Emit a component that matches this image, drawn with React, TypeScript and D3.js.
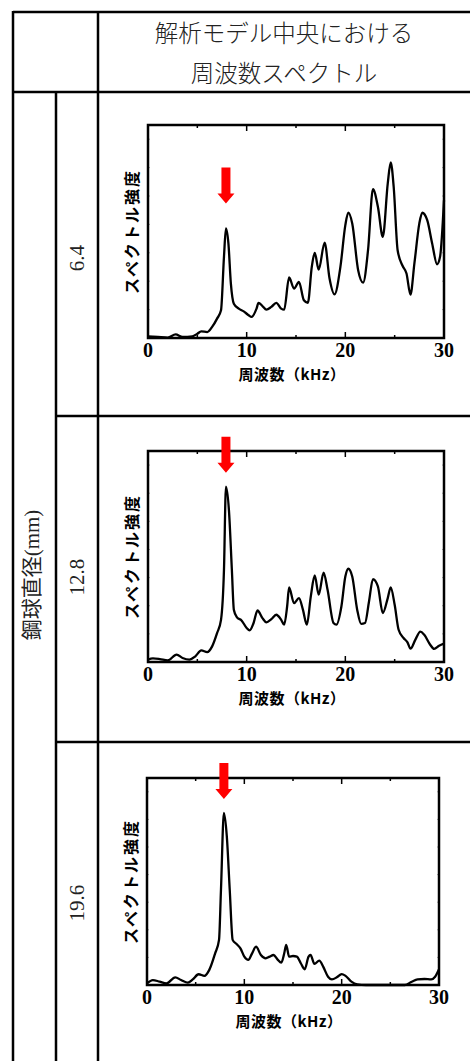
import React, { useEffect, useRef } from "react";
import * as d3 from "d3";

// table labels
const headerLines = ["解析モデル中央における", "周波数スペクトル"];
const groupLabel = "鋼球直径(mm)";
const diameters = ["6.4", "12.8", "19.6"];
const xTicks = [0, 10, 20, 30];
const xLabel = "周波数（kHz）";
const yLabel = "スペクトル強度";
const peakFreq = 7.9;

// spectrum, 6.4 mm (intensity relative to plot height)
const freq64 = [0, 1, 2, 2.8, 3.5, 4.5, 5, 5.4, 6, 6.5, 7, 7.4, 7.7, 7.9, 8.15, 8.4, 8.7, 9.2, 9.7, 10.2, 10.5, 11, 11.2, 11.6, 12, 12.5, 13, 13.5, 13.8, 14.3, 14.8, 15.3, 15.8, 16.2, 16.6, 16.9, 17.3, 17.9, 18.4, 18.9, 19.5, 20, 20.3, 20.7, 21.3, 21.8, 22.3, 22.8, 23.3, 23.8, 24.3, 24.6, 24.9, 25.3, 25.8, 26.2, 26.6, 27, 27.5, 27.8, 28.3, 28.8, 29.3, 29.6, 30];
const spec64 = [0.008, 0.005, 0.002, 0.017, 0.005, 0.008, 0.02, 0.031, 0.028, 0.052, 0.091, 0.13, 0.381, 0.514, 0.444, 0.255, 0.161, 0.138, 0.125, 0.107, 0.099, 0.138, 0.165, 0.15, 0.133, 0.146, 0.165, 0.138, 0.133, 0.284, 0.232, 0.263, 0.177, 0.165, 0.334, 0.4, 0.321, 0.448, 0.279, 0.205, 0.334, 0.53, 0.589, 0.538, 0.318, 0.26, 0.412, 0.699, 0.616, 0.475, 0.726, 0.824, 0.71, 0.412, 0.339, 0.303, 0.204, 0.35, 0.538, 0.588, 0.553, 0.444, 0.346, 0.381, 0.647];

// spectrum, 12.8 mm
const freq128 = [0, 0.5, 1.2, 2, 2.9, 3.5, 4.2, 4.8, 5.4, 6, 6.5, 7, 7.4, 7.7, 7.9, 8.2, 8.5, 8.7, 9, 9.5, 10, 10.3, 10.7, 11.1, 11.6, 12, 12.5, 13, 13.5, 13.8, 14.1, 14.3, 14.8, 15.3, 15.7, 16.1, 16.5, 16.9, 17.3, 17.8, 18.2, 18.8, 19.1, 19.6, 20, 20.3, 20.7, 21.2, 21.6, 22, 22.4, 22.8, 23.3, 23.8, 24.3, 24.6, 25, 25.4, 25.9, 26.3, 26.6, 27.1, 27.6, 28, 28.6, 29, 29.5, 30];
const spec128 = [0.011, 0.017, 0.014, 0.008, 0.035, 0.019, 0.011, 0.027, 0.055, 0.047, 0.074, 0.137, 0.2, 0.437, 0.831, 0.721, 0.437, 0.248, 0.213, 0.196, 0.161, 0.15, 0.185, 0.244, 0.208, 0.188, 0.203, 0.224, 0.2, 0.177, 0.263, 0.353, 0.279, 0.303, 0.248, 0.177, 0.311, 0.41, 0.319, 0.424, 0.342, 0.185, 0.177, 0.263, 0.405, 0.442, 0.405, 0.248, 0.181, 0.185, 0.287, 0.393, 0.358, 0.232, 0.303, 0.353, 0.271, 0.153, 0.114, 0.093, 0.063, 0.106, 0.144, 0.129, 0.082, 0.062, 0.077, 0.087];

// spectrum, 19.6 mm
const freq196 = [0, 0.6, 1.3, 2, 2.9, 3.5, 4.2, 4.7, 5.3, 5.9, 6.4, 7, 7.4, 7.6, 7.9, 8.2, 8.5, 8.8, 9.2, 9.6, 10, 10.4, 10.8, 11.2, 11.7, 12.2, 12.6, 13, 13.4, 13.8, 14.1, 14.3, 14.6, 15, 15.4, 15.8, 16.2, 16.6, 16.8, 17.2, 17.7, 18.1, 18.6, 19, 19.5, 20, 20.4, 21, 21.6, 22.5, 25, 26.5, 27.2, 27.8, 28.5, 29.2, 29.6, 30];
const spec196 = [0.008, 0.024, 0.016, 0.008, 0.037, 0.024, 0.011, 0.027, 0.052, 0.044, 0.073, 0.153, 0.218, 0.46, 0.831, 0.718, 0.46, 0.218, 0.198, 0.177, 0.137, 0.121, 0.153, 0.185, 0.145, 0.129, 0.137, 0.145, 0.124, 0.108, 0.153, 0.194, 0.137, 0.14, 0.137, 0.105, 0.076, 0.137, 0.145, 0.102, 0.118, 0.089, 0.04, 0.027, 0.037, 0.053, 0.044, 0.016, 0.003, 0, 0, 0, 0.016, 0.027, 0.029, 0.027, 0.04, 0.076];

const SERIF = "Liberation Serif, Times New Roman, DejaVu Serif, serif";
const SANS_JP = "Noto Sans CJK JP, sans-serif";

const App = () => {
	const ref = useRef<SVGSVGElement>(null);

	useEffect(() => {
		const W = 470;
		const H = 1061;
		const svg = d3.select(ref.current);
		svg.selectAll("*").remove();
		svg.attr("width", W).attr("height", H);

		// table grid
		const lw = 2.5;
		const grid = svg.append("g").attr("stroke", "#000").attr("stroke-width", lw);
		const hline = (x1: number, x2: number, y: number) =>
			grid.append("line").attr("x1", x1).attr("x2", x2).attr("y1", y).attr("y2", y);
		const vline = (x: number, y1: number, y2: number) =>
			grid.append("line").attr("x1", x).attr("x2", x).attr("y1", y1).attr("y2", y2);
		hline(13, W, 12);
		hline(13, W, 92);
		hline(56, W, 416);
		hline(56, W, 742);
		vline(13, 11, H);
		vline(98, 11, H);
		vline(56, 92, H);

		headerLines.forEach((t, i) => {
			svg
				.append("text")
				.attr("x", 284)
				.attr("y", 42 + i * 40)
				.attr("text-anchor", "middle")
				.attr("font-family", SANS_JP)
				.attr("font-weight", 300)
				.attr("font-size", 23.5)
				.attr("fill", "#222")
				.text(t);
		});

		svg
			.append("text")
			.attr("transform", "translate(39,575) rotate(-90)")
			.attr("text-anchor", "middle")
			.attr("font-family", `${SERIF}, Noto Sans CJK JP`)
			.attr("font-size", 21)
			.attr("fill", "#222")
			.text(groupLabel);

		const rows = [
			{ cy: 258, freq: freq64, spec: spec64, box: [148, 444, 125, 338], arrowGap: 25 },
			{ cy: 577, freq: freq128, spec: spec128, box: [148, 444, 451, 662], arrowGap: 14 },
			{ cy: 903, freq: freq196, spec: spec196, box: [147, 439, 778, 985], arrowGap: 14 },
		];

		rows.forEach((r, i) => {
			svg
				.append("text")
				.attr("transform", `translate(84,${r.cy}) rotate(-90)`)
				.attr("text-anchor", "middle")
				.attr("font-family", SERIF)
				.attr("font-size", 21)
				.attr("fill", "#222")
				.text(diameters[i]);

			const [left, right, top, bottom] = r.box;
			const x = d3.scaleLinear().domain([0, 30]).range([left, right]);
			const y = d3.scaleLinear().domain([0, 1]).range([bottom, top]);
			const g = svg.append("g");

			// inner ticks
			d3.range(5, 30, 5).forEach((f) => {
				const len = f % 10 === 0 ? 6 : 3;
				g.append("line").attr("x1", x(f)).attr("x2", x(f)).attr("y1", top).attr("y2", top + len).attr("stroke", "#000").attr("stroke-width", 1.5);
				g.append("line").attr("x1", x(f)).attr("x2", x(f)).attr("y1", bottom).attr("y2", bottom - len).attr("stroke", "#000").attr("stroke-width", 1.5);
			});
			d3.range(1, 8).forEach((k) => {
				const v = k / 7.5;
				g.append("line").attr("x1", left).attr("x2", left + 2).attr("y1", y(v)).attr("y2", y(v)).attr("stroke", "#aaa").attr("stroke-width", 1);
				g.append("line").attr("x1", right).attr("x2", right - 2).attr("y1", y(v)).attr("y2", y(v)).attr("stroke", "#aaa").attr("stroke-width", 1);
			});

			const pts: [number, number][] = r.freq.map((f, j) => [f, r.spec[j]]);
			const line = d3
				.line<[number, number]>()
				.x((d) => x(d[0]))
				.y((d) => y(d[1]))
				.curve(d3.curveMonotoneX);
			g.append("path").datum(pts).attr("fill", "none").attr("stroke", "#000").attr("stroke-width", 2.3).attr("stroke-linejoin", "round").attr("d", line);

			g.append("rect")
				.attr("x", left)
				.attr("y", top)
				.attr("width", right - left)
				.attr("height", bottom - top)
				.attr("fill", "none")
				.attr("stroke", "#000")
				.attr("stroke-width", 2.5);

			g.selectAll(".tl")
				.data(xTicks)
				.join("text")
				.attr("x", (d) => x(d))
				.attr("y", bottom + 19)
				.attr("text-anchor", "middle")
				.attr("font-family", SERIF)
				.attr("font-weight", "bold")
				.attr("font-size", 20)
				.text((d) => d);

			g.append("text")
				.attr("x", (left + right) / 2 - 4)
				.attr("y", bottom + 42)
				.attr("text-anchor", "middle")
				.attr("font-family", SANS_JP)
				.attr("font-weight", "bold")
				.attr("font-size", 15)
				.attr("letter-spacing", 0.5)
				.text(xLabel);

			g.append("text")
				.attr("transform", `translate(${left - 10},${(top + bottom) / 2}) rotate(-90)`)
				.attr("text-anchor", "middle")
				.attr("font-family", SANS_JP)
				.attr("font-weight", "bold")
				.attr("font-size", 16)
				.attr("letter-spacing", 2)
				.text(yLabel);

			// red arrow above the peak
			const peakIdx = r.freq.indexOf(peakFreq);
			const ax = x(peakFreq);
			const tip = y(r.spec[peakIdx]) - r.arrowGap;
			const arrow = d3.path();
			arrow.moveTo(ax - 4.5, tip - 36);
			arrow.lineTo(ax + 4.5, tip - 36);
			arrow.lineTo(ax + 4.5, tip - 10);
			arrow.lineTo(ax + 8.5, tip - 10);
			arrow.lineTo(ax, tip);
			arrow.lineTo(ax - 8.5, tip - 10);
			arrow.lineTo(ax - 4.5, tip - 10);
			arrow.closePath();
			g.append("path").attr("d", arrow.toString()).attr("fill", "#ff0000");
		});
	}, []);

	return <svg ref={ref} style={{ position: "absolute", left: 0, top: 0 }}></svg>;
};

export default App;
